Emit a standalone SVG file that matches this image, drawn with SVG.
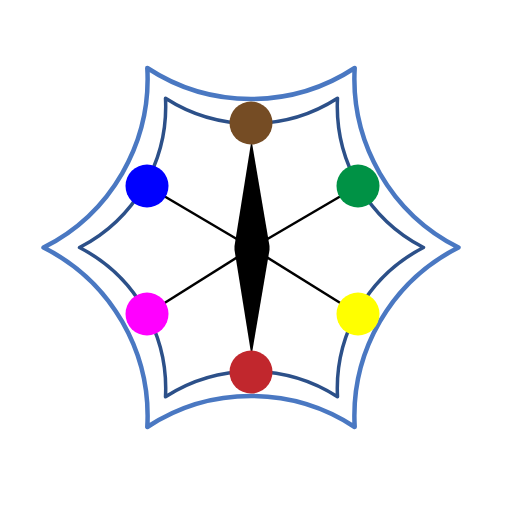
<svg xmlns="http://www.w3.org/2000/svg" width="512" height="512" viewBox="0 0 512 512">
<style>
.outer{fill:none;stroke:#4a78c2;stroke-width:4.5;stroke-linejoin:round}
.inner{fill:none;stroke:#2c5089;stroke-width:3.5;stroke-linejoin:round}
.spoke{stroke:#000;stroke-width:2.5}
</style>
<rect width="512" height="512" fill="#fff"/>
<g id="outer-frame">
<path class="outer" d="M147.3 68 A189 189 0 0 0 354.7 68 A189 189 0 0 0 458.5 247.5 A189 189 0 0 0 354.7 427 A189 189 0 0 0 147.3 427 A189 189 0 0 0 43.5 247.5 A189 189 0 0 0 147.3 68 Z"/>
</g>
<g id="inner-frame">
<path class="inner" d="M165.5 98.3 A159 159 0 0 0 337.5 98.3 A159 159 0 0 0 423.5 247.5 A159 159 0 0 0 337.5 396.7 A159 159 0 0 0 165.5 396.7 A159 159 0 0 0 79.5 247.5 A159 159 0 0 0 165.5 98.3 Z"/>
</g>
<g id="connectors">
<line class="spoke" x1="252" y1="248" x2="147" y2="186"/>
<line class="spoke" x1="252" y1="248" x2="358" y2="186"/>
<line class="spoke" x1="252" y1="248" x2="147" y2="314"/>
<line class="spoke" x1="252" y1="248" x2="358" y2="314"/>
</g>
<g id="spindle">
<polygon points="251.5,140 269.5,246 269.5,250 251.5,356 234.5,250 234.5,246" fill="#000"/>
</g>
<g id="node-brown"><circle cx="251" cy="123" r="21.5" fill="#754c24"/></g>
<g id="node-blue"><circle cx="147" cy="186" r="21.5" fill="#0000ff"/></g>
<g id="node-green"><circle cx="358" cy="186" r="21.5" fill="#009245"/></g>
<g id="node-magenta"><circle cx="147" cy="314" r="21.5" fill="#ff00ff"/></g>
<g id="node-yellow"><circle cx="358" cy="314" r="21.5" fill="#ffff00"/></g>
<g id="node-red"><circle cx="251" cy="372" r="21.5" fill="#c1272d"/></g>
</svg>
